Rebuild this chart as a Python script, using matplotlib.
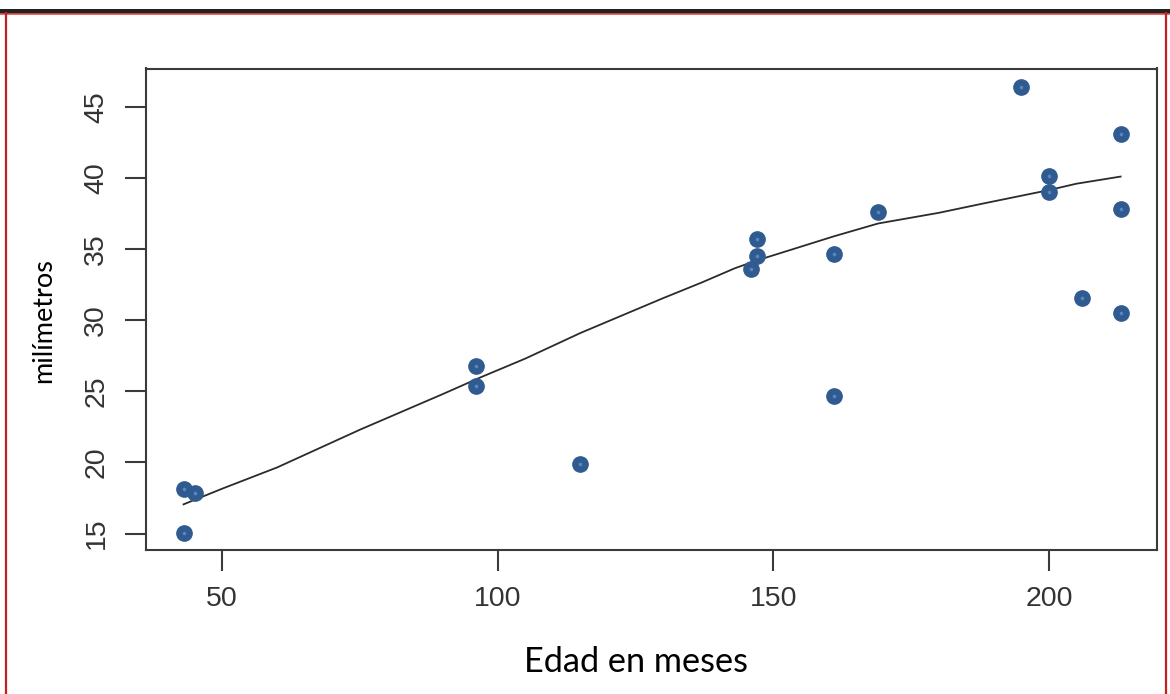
import matplotlib
matplotlib.use("Agg")
import matplotlib.pyplot as plt
from matplotlib.patches import Rectangle
from matplotlib.lines import Line2D

# Data
edad = [43, 45, 43, 96, 96, 115, 146, 147, 147, 161, 161, 169, 195, 200, 200, 206, 213, 213, 213]
mm = [18.13, 17.87, 15.03, 26.76, 25.37, 19.87, 33.58, 34.51, 35.69, 34.63, 24.67, 37.63,
      46.42, 40.16, 39.02, 31.54, 43.09, 37.82, 30.49]

# Smooth curve
curva_x = [43, 50, 60, 75, 90, 97, 105, 115, 130, 137, 143, 147, 154, 161, 169, 180, 188, 200, 205, 213]
curva_y = [17.05, 18.15, 19.65, 22.3, 24.8, 26.0, 27.3, 29.1, 31.55, 32.65, 33.65, 34.2, 35.05, 35.9,
           36.8, 37.55, 38.2, 39.15, 39.6, 40.1]

xticks = [50, 100, 150, 200]
yticks = [15, 20, 25, 30, 35, 40, 45]

W, H = 1170, 694
fig = plt.figure(figsize=(W / 100, H / 100), dpi=100)
fig.patch.set_facecolor("white")

ax = fig.add_axes([145.5 / W, 1 - 550 / H, (1157 - 145.5) / W, (550 - 68.5) / H])
ax.set_xlim(36.1, 219.6)
ax.set_ylim(13.84, 47.7)

ax.plot(curva_x, curva_y, color="#2b2b2b", lw=1.3, zorder=2)
ax.plot(edad, mm, "o", ms=11, color="#2f5b90", mec="#2f5b90", zorder=3)
ax.plot(edad, mm, "o", ms=2.6, color="#5a86c0", mec="none", zorder=4)

for s in ax.spines.values():
    s.set_color("#3a3a3a")
    s.set_linewidth(1.5)

ax.set_xticks(xticks)
ax.set_yticks(yticks)
ax.tick_params(axis="both", direction="out", length=15, width=1.5, color="#3a3a3a",
               labelsize=20.5, labelcolor="#333333", pad=11)
for lab in ax.get_xticklabels() + ax.get_yticklabels():
    lab.set_family("Liberation Sans")
for lab in ax.get_yticklabels():
    lab.set_rotation(90)
    lab.set_va("center")

fig.text(44 / W, 1 - 321 / H, "milímetros", rotation=90, ha="center", va="center",
         fontsize=19.5, family="Lato", color="black")
fig.text(636 / W, 1 - 662 / H, "Edad en meses", ha="center", va="center",
         fontsize=24.7, family="Lato", color="black")

# Frame of the screenshot
fig.add_artist(Rectangle((0, 1 - 13.5 / H), 1, 4.5 / H, transform=fig.transFigure,
                         facecolor="#222222", edgecolor="none"))
fig.add_artist(Line2D([0, 1], [1 - 14 / H, 1 - 14 / H], transform=fig.transFigure,
                      color="#e05050", lw=1.2))
fig.add_artist(Line2D([6 / W, 6 / W], [0, 1 - 13 / H], transform=fig.transFigure,
                      color="#c02020", lw=1.6))
fig.add_artist(Line2D([1166 / W, 1166 / W], [0, 1 - 13 / H], transform=fig.transFigure,
                      color="#c02020", lw=1.6))

fig.savefig("out.png", dpi=100)
